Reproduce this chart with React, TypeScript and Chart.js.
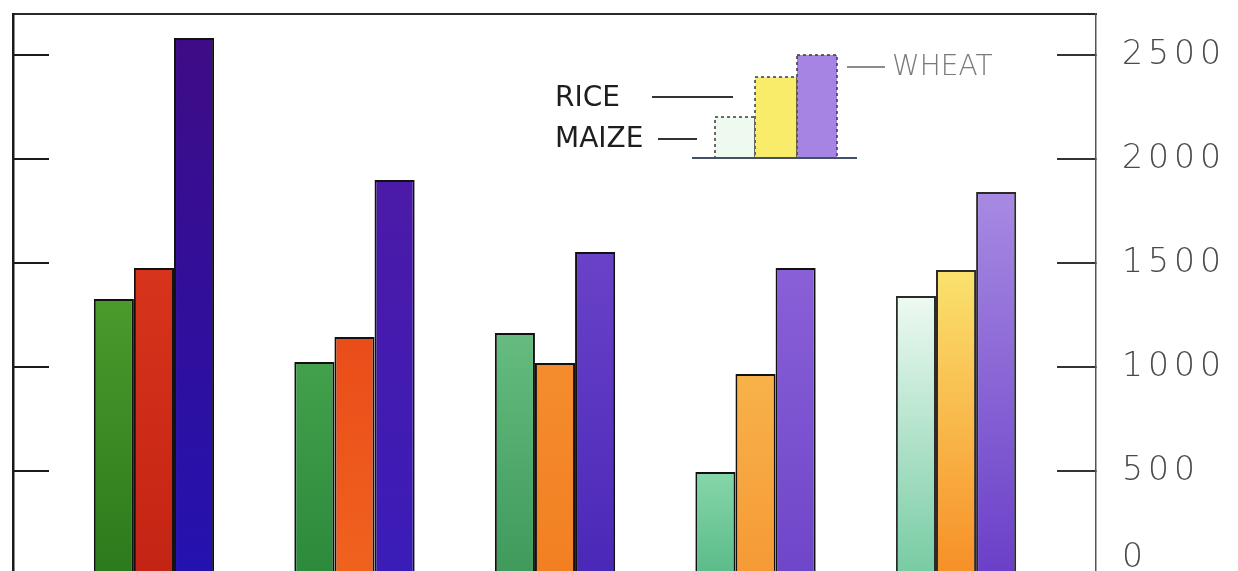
import React, { useEffect, useRef } from 'react';
import { Chart, registerables } from 'chart.js';

Chart.register(...registerables);

// ---- data ----
const categories = ['1', '2', '3', '4', '5'];
const seriesNames = ['MAIZE', 'RICE', 'WHEAT'];
const maize = [1327, 1024, 1163, 495, 1341];
const rice = [1476, 1144, 1019, 966, 1466];
const wheat = [2582, 1899, 1553, 1476, 1841];
const yTickValues = [0, 500, 1000, 1500, 2000, 2500];
const yTickLabels = ['0', '500', '1000', '1500', '2000', '2500'];

// ---- styles (per bar: top / bottom colour) ----
const maizeTop = ['#4a9a2c', '#43a04c', '#66bc80', '#86d6aa', '#eefaf2'];
const maizeBottom = ['#2c7a1c', '#2c8a3c', '#3f9a5c', '#5cbc8a', '#78cca4'];
const riceTop = ['#d8341c', '#ea4c1a', '#f48c2e', '#f8b24a', '#fae26e'];
const riceBottom = ['#c42414', '#f0621e', '#f28022', '#f59a36', '#f79028'];
const wheatTop = ['#3e0c86', '#4c1aa8', '#6a42c8', '#8a60d8', '#a88ae2'];
const wheatBottom = ['#2412b0', '#3a1cb8', '#4a28b8', '#6e46c8', '#6a40c8'];
const barBorder = ['#111111', '#111111', '#111111', '#111111', '#2a2a2a'];
const legendFill = ['#eefaf0', '#f8ec6a', '#a584e4'];

const Y_MIN = 19;
const Y_MAX = 2697;
const X_MIN = -0.703;
const X_MAX = 4.698;

function gradientFill(tops: string[], bottoms: string[]) {
  return (ctx: any) => {
    const chart = ctx.chart;
    const i = ctx.dataIndex;
    const y = chart.scales && chart.scales.y;
    const raw = ctx.raw;
    if (!y || !raw || i === undefined || !isFinite(y.bottom)) return tops[i] || tops[0];
    const top = y.getPixelForValue(raw.y);
    const bottom = y.bottom;
    if (!isFinite(top) || bottom - top < 1) return tops[i];
    const g = chart.ctx.createLinearGradient(0, top, 0, bottom);
    g.addColorStop(0, tops[i]);
    g.addColorStop(1, bottoms[i]);
    return g;
  };
}

const legendPlugin = {
  id: 'drawnLegend',
  beforeDraw(chart: any) {
    chart.ctx.letterSpacing = '5px';
  },
  afterDraw(chart: any) {
    const c = chart.ctx;
    c.save();
    c.letterSpacing = '0px';
    const bars = [
      { x0: 715, x1: 755, top: 117 },
      { x0: 755, x1: 797, top: 77 },
      { x0: 797, x1: 837, top: 55 },
    ];
    const base = 158;
    bars.forEach((b, k) => {
      c.fillStyle = legendFill[k];
      c.fillRect(b.x0, b.top, b.x1 - b.x0, base - b.top);
      c.setLineDash([3, 3]);
      c.strokeStyle = '#3a3a3a';
      c.lineWidth = 1.5;
      c.strokeRect(b.x0, b.top, b.x1 - b.x0, base - b.top);
    });
    c.setLineDash([]);
    c.strokeStyle = '#445066';
    c.lineWidth = 2;
    c.beginPath();
    c.moveTo(692, base);
    c.lineTo(857, base);
    c.stroke();

    c.textBaseline = 'middle';
    c.textAlign = 'left';
    c.font = '28px "DejaVu Sans"';
    c.fillStyle = '#1e1e1e';
    c.fillText(seriesNames[1], 555, 99);
    c.fillText(seriesNames[0], 555, 140);
    c.strokeStyle = '#333';
    c.lineWidth = 2;
    c.beginPath();
    c.moveTo(652, 97);
    c.lineTo(733, 97);
    c.moveTo(658, 139);
    c.lineTo(697, 139);
    c.stroke();

    c.font = '200 28px "DejaVu Sans"';
    c.fillStyle = '#7a7a7a';
    c.fillText(seriesNames[2], 892, 68);
    c.strokeStyle = '#666';
    c.lineWidth = 1.5;
    c.beginPath();
    c.moveTo(847, 67);
    c.lineTo(885, 67);
    c.stroke();
    c.restore();
  },
};

export default function App() {
  const ref = useRef<HTMLCanvasElement | null>(null);

  useEffect(() => {
    if (!ref.current) return;
    const toPoints = (arr: number[]) => arr.map((v, i) => ({ x: i, y: v }));
    const setTicks = (scale: any) => {
      scale.ticks = yTickValues.map((v) => ({ value: v }));
    };
    const noPad = (s: any) => {
      s.paddingTop = 0;
      s.paddingBottom = 0;
      s.paddingLeft = 0;
      s.paddingRight = 0;
    };
    const chart = new Chart(ref.current, {
      type: 'bar',
      data: {
        labels: categories,
        datasets: [
          {
            label: seriesNames[0],
            data: toPoints(maize),
            backgroundColor: gradientFill(maizeTop, maizeBottom),
            borderColor: barBorder,
            borderWidth: 2,
          },
          {
            label: seriesNames[1],
            data: toPoints(rice),
            backgroundColor: gradientFill(riceTop, riceBottom),
            borderColor: barBorder,
            borderWidth: 2,
          },
          {
            label: seriesNames[2],
            data: toPoints(wheat),
            backgroundColor: gradientFill(wheatTop, wheatBottom),
            borderColor: barBorder,
            borderWidth: 2,
          },
        ] as any,
      },
      options: {
        animation: false,
        responsive: false,
        devicePixelRatio: 1,
        layout: { padding: 0 },
        datasets: { bar: { categoryPercentage: 0.6, barPercentage: 1 } } as any,
        plugins: {
          legend: { display: false },
          tooltip: {
            callbacks: {
              title: (items: any[]) => categories[items[0].parsed.x] ?? '',
            },
          },
        },
        scales: {
          x: {
            type: 'linear',
            position: 'top',
            offset: false,
            bounds: 'data',
            min: X_MIN,
            max: X_MAX,
            afterBuildTicks: (s: any) => {
              s.ticks = categories.map((_, i) => ({ value: i }));
            },
            ticks: { display: false },
            grid: { display: false, offset: false },
            border: { display: true, color: '#2a2a2a', width: 2 },
            afterFit: (s: any) => {
              s.height = 14;
              noPad(s);
            },
          },
          yLeft: {
            type: 'linear',
            position: 'left',
            min: Y_MIN,
            max: Y_MAX,
            afterBuildTicks: setTicks,
            ticks: { display: false },
            grid: {
              display: true,
              drawOnChartArea: false,
              drawTicks: true,
              tickLength: -36,
              color: '#1a1a1a',
              lineWidth: 2,
            },
            border: { display: true, color: '#1a1a1a', width: 2.5 },
            afterFit: (s: any) => {
              s.width = 13;
              noPad(s);
            },
          },
          y: {
            type: 'linear',
            position: 'right',
            min: Y_MIN,
            max: Y_MAX,
            afterBuildTicks: setTicks,
            ticks: {
              autoSkip: false,
              padding: 65,
              color: '#4a4a4a',
              font: { family: '"DejaVu Sans"', size: 33, weight: '200' as any, lineHeight: 1 },
              callback: (v: any) => {
                const idx = yTickValues.indexOf(Number(v));
                const label = idx >= 0 ? yTickLabels[idx] : String(v);
                return Number(v) === 0 ? [label, ''] : label;
              },
            },
            grid: {
              display: true,
              drawOnChartArea: false,
              drawTicks: true,
              tickLength: -39,
              color: '#333',
              lineWidth: 2,
            },
            border: { display: true, color: '#555', width: 1.5 },
            afterFit: (s: any) => {
              s.width = 142;
              noPad(s);
            },
          },
        } as any,
      },
      plugins: [legendPlugin],
    });
    return () => chart.destroy();
  }, []);

  return (
    <div style={{ position: 'absolute', left: 0, top: 0, width: 1238, height: 571, background: '#fff' }}>
      <canvas ref={ref} width={1238} height={571} style={{ display: 'block' }} />
    </div>
  );
}
